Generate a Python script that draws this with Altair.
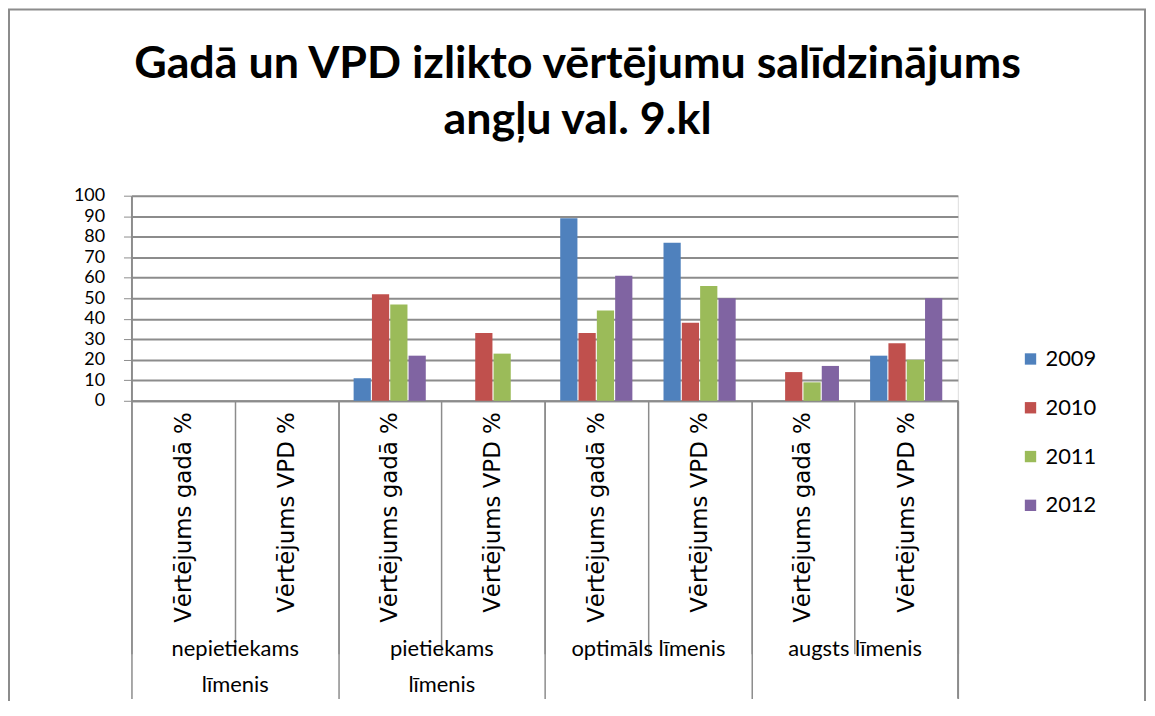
import altair as alt
import pandas as pd

# ---- data ----
groups = ["nepietiekams\nlīmenis", "pietiekams\nlīmenis", "optimāls līmenis", "augsts līmenis"]
subs = ["Vērtējums gadā %", "Vērtējums VPD %"]
years = ["2009", "2010", "2011", "2012"]
v2009 = [0, 0, 11, 0, 89, 77, 0, 22]
v2010 = [0, 0, 52, 33, 33, 38, 14, 28]
v2011 = [0, 0, 47, 23, 44, 56, 9, 20]
v2012 = [0, 0, 22, 0, 61, 50, 17, 50]
colors = ["#4F81BD", "#C0504D", "#9BBB59", "#8064A2"]

keys = [f"{g}|{s}" for g in groups for s in subs]
rows = []
for year, vals in zip(years, [v2009, v2010, v2011, v2012]):
    for k, v in zip(keys, vals):
        rows.append({"key": k, "year": year, "value": v})
df = pd.DataFrame(rows)
gdf = pd.DataFrame({"group": groups})

W, H = 830, 206
GRID = "#8C8C8C"

bars = alt.Chart(df).mark_bar().encode(
    x=alt.X("key:N", sort=keys, title=None,
            scale=alt.Scale(paddingInner=0, paddingOuter=0),
            axis=alt.Axis(orient="bottom", labelExpr="split(datum.label, '|')[1]", labelAngle=-90,
                          labelFont="DejaVu Sans", labelFontSize=23, labelColor="#000",
                          labelLimit=400, labelOverlap=False,
                          tickBand="extent", tickSize=254, tickColor=GRID, tickWidth=1.5,
                          labelPadding=-243, domainColor=GRID, domainWidth=2)),
    xOffset=alt.XOffset("year:N", sort=years,
                        scale=alt.Scale(paddingInner=0.06, paddingOuter=0.85)),
    y=alt.Y("value:Q", title=None,
            scale=alt.Scale(domain=[0, 100], nice=False),
            axis=alt.Axis(values=list(range(0, 101, 10)), labelFont="Lato", labelFontSize=18,
                          labelOverlap=False, labelColor="#000", gridColor=GRID, gridWidth=2,
                          domainColor=GRID, domainWidth=2, tickColor=GRID, tickSize=8,
                          labelPadding=19)),
    color=alt.Color("year:N", sort=years, scale=alt.Scale(domain=years, range=colors),
                    legend=alt.Legend(title=None, orient="none", legendX=892, legendY=153,
                                      symbolType="square", symbolSize=130, labelFont="Lato",
                                      labelFontSize=22, labelColor="#000", rowPadding=27,
                                      symbolStrokeWidth=0)),
)

grp = alt.Chart(gdf).mark_rule(color=GRID, strokeWidth=1.5).encode(
    x=alt.X("group:N", sort=groups, title=None, bandPosition=1,
            scale=alt.Scale(paddingInner=0, paddingOuter=0),
            axis=alt.Axis(orient="bottom", labelExpr="split(datum.label, '\\n')", labelAngle=0,
                          labelFont="Lato", labelFontSize=22, labelColor="#000",
                          labelLineHeight=36, labelBaseline="top", labelOverlap=False,
                          labelLimit=400,
                          tickBand="extent", tickSize=299, tickColor=GRID, tickWidth=1.5,
                          labelPadding=-60, domain=False)),
    y=alt.value(H), y2=alt.value(H + 299),
    opacity=alt.condition(alt.datum.group == groups[-1], alt.value(1), alt.value(0)),
)

# outer chart-area frame (decoration)
frame = alt.Chart(pd.DataFrame({"f": [0]})).mark_rect(
    fill=None, stroke="#8C8C8C", strokeWidth=2
).encode(
    x=alt.value(-123), x2=alt.value(1018), y=alt.value(-187), y2=alt.value(H + 320)
)

chart = alt.layer(frame, bars, grp).resolve_scale(x="independent").properties(
    width=W, height=H,
    title=alt.TitleParams(["Gadā un VPD izlikto vērtējumu salīdzinājums", "angļu val. 9.kl"],
                          font="Lato", fontSize=45, fontWeight="bold", color="#000",
                          lineHeight=56, anchor="middle", dx=33, offset=-135),
    autosize=alt.AutoSizeParams(type="none"),
    padding={"left": 124, "top": 187, "right": 190, "bottom": 300},
).configure_view(stroke=None).configure(background="white")

chart.save("out.html", embed_options={"renderer": "svg", "actions": False})
